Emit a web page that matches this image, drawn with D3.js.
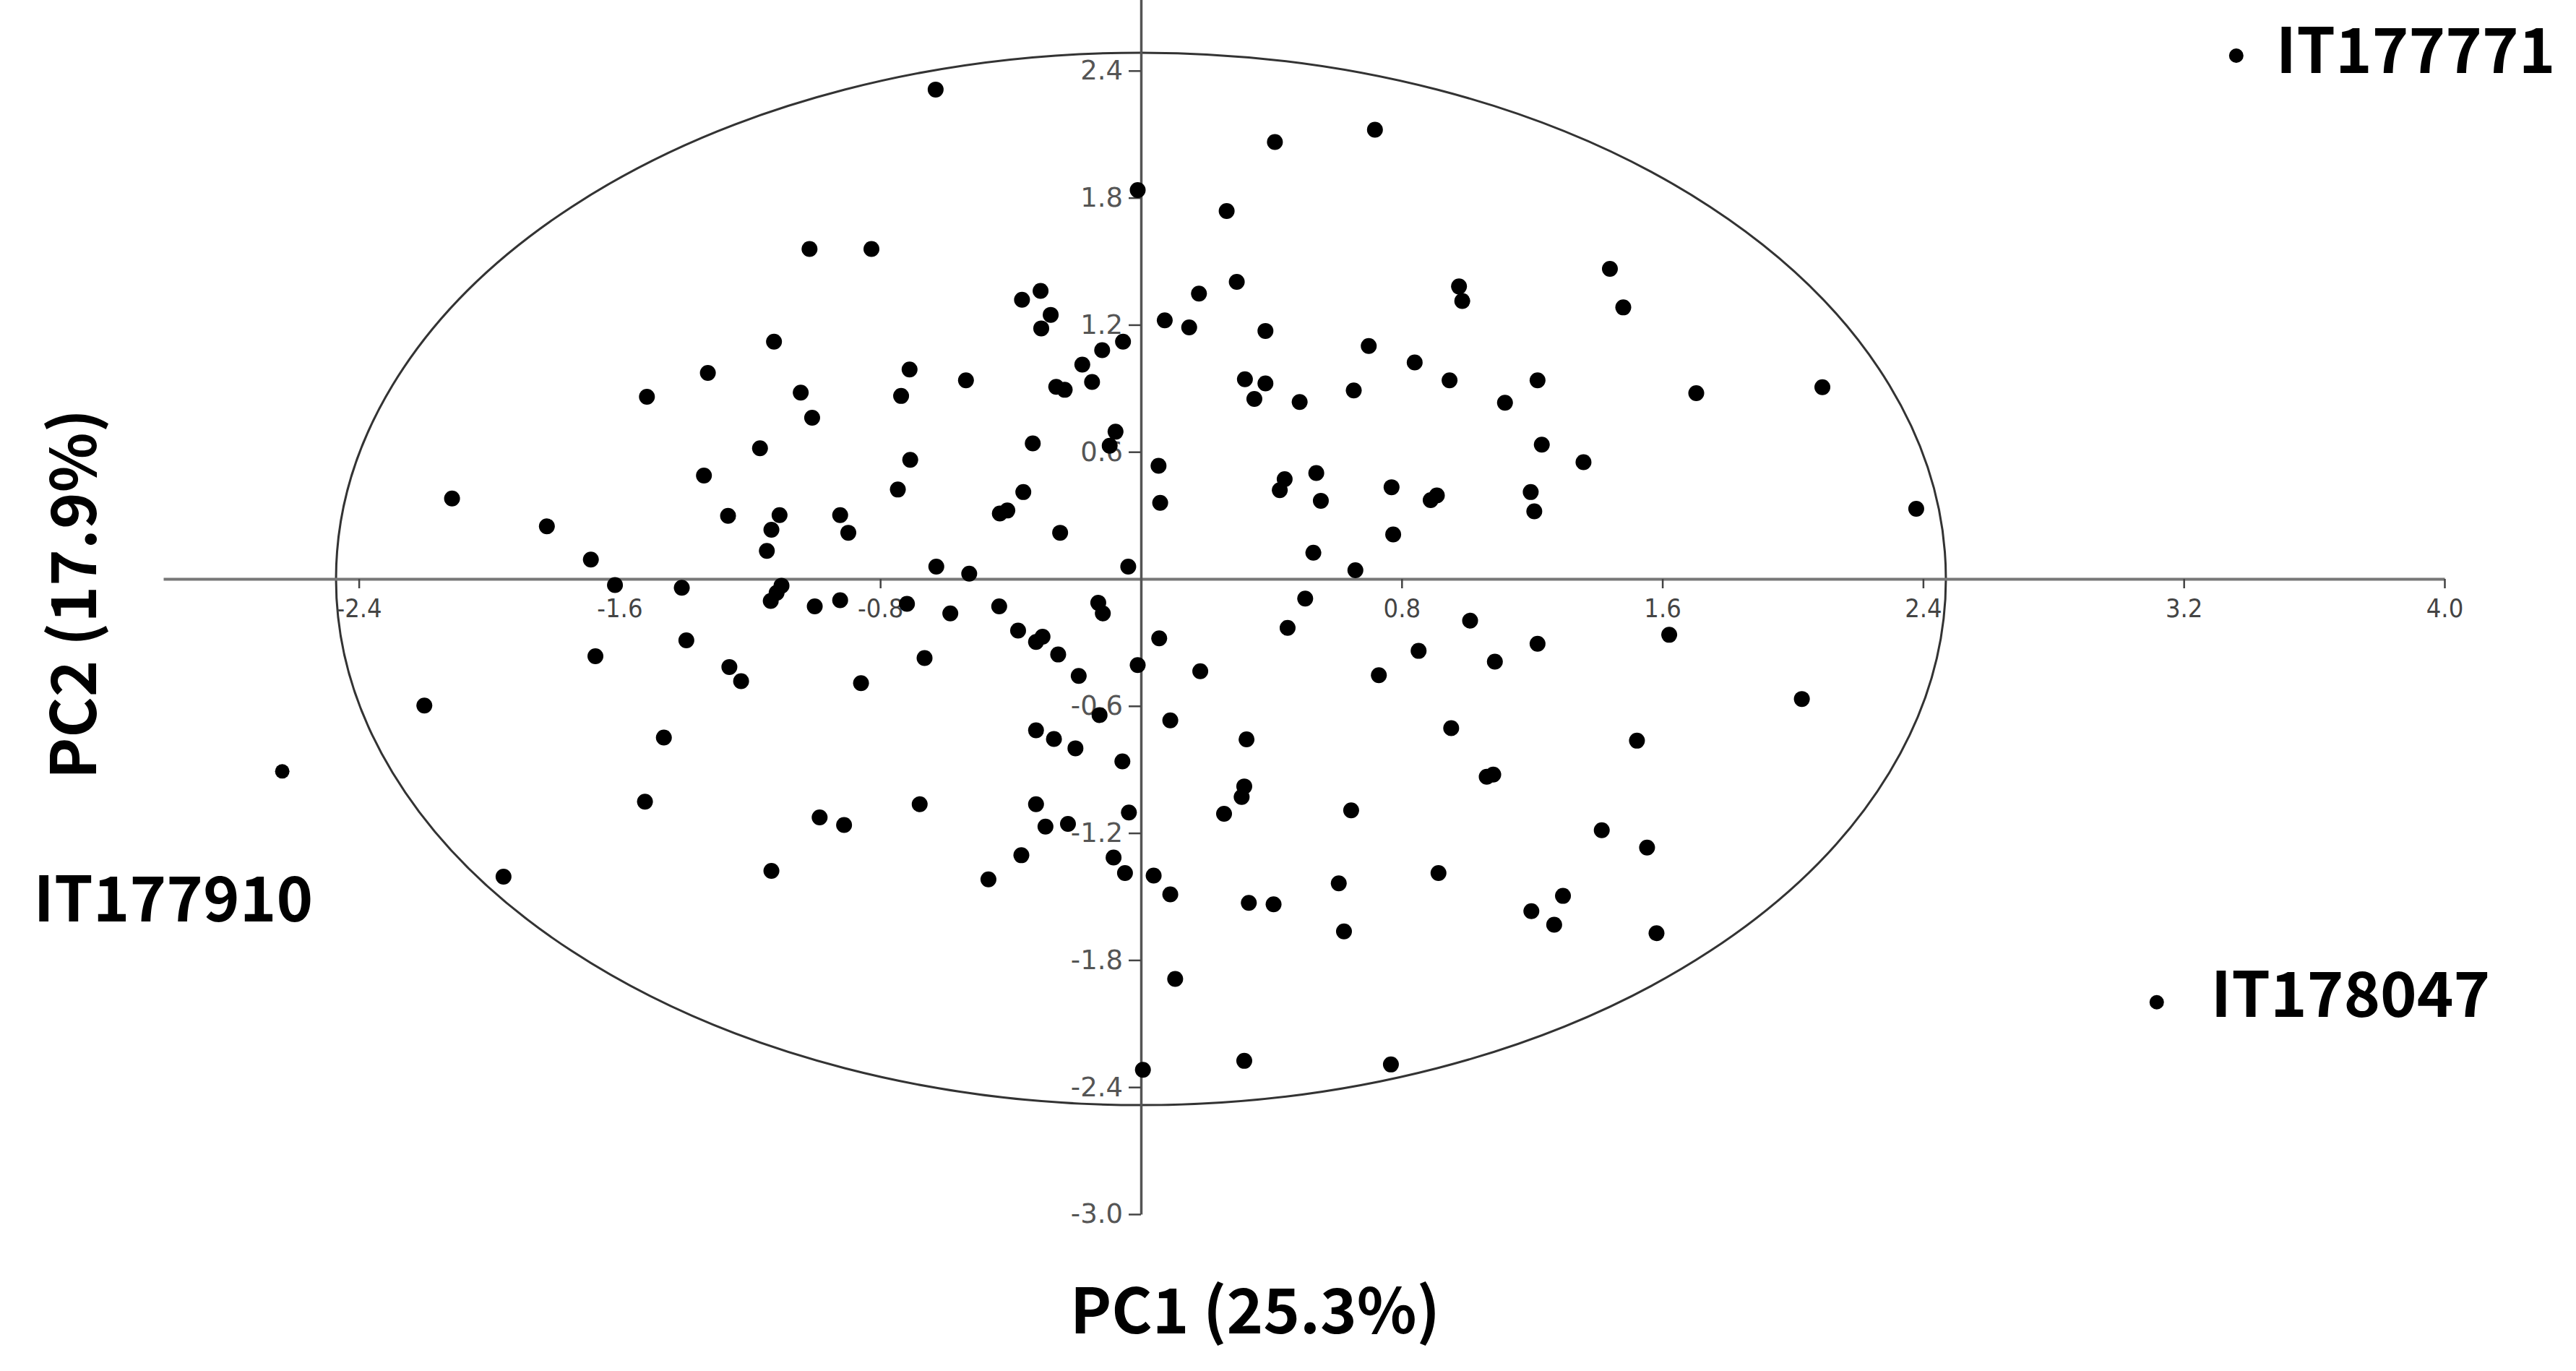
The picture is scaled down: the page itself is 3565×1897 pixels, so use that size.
<!DOCTYPE html>
<html>
<head>
<meta charset="utf-8">
<script src="https://cdn.jsdelivr.net/npm/d3@7"></script>
<style>
  html, body { margin: 0; padding: 0; background: #fff; }
  svg { display: block; }
</style>
</head>
<body>
<svg id="chart" width="3565" height="1897"></svg>
<script>
// PC scores
const pc1 = [
  -0.630, -0.010, -1.017, -0.827, -0.308, -0.365, -0.277, -0.306, -1.126, -0.055,
  -0.119, -0.180, -1.329, -0.710, -0.537, -0.260, -0.234, -0.150, -1.516, -1.044,
  -0.736, -1.009, -0.078, -0.096, -0.332, -1.169, -0.708, -1.341, -2.114, -0.746,
  -0.361, -0.410, -0.433, -1.823, -1.267, -1.109, -1.134, -0.923, -0.898, -0.248,
  -1.148, -1.688, -0.628, -0.527, -0.039,
  0.718, 0.411, 0.263, 1.439, 0.294, 0.178, 0.976, 0.986, 1.480, 0.073,
  0.148, 0.382, 0.699, 0.840, 0.319, 0.382, 0.348, 0.487, 0.653, 0.947,
  1.217, 1.117, 1.704, 2.091, 1.230, 1.358, 0.054, 0.441, 0.426, 0.538,
  0.552, 0.769, 0.908, 0.889, 1.196, 1.207, 0.059, 2.379, 0.774, 0.529,
  0.658,
  -1.614, -1.409, -1.103, -1.118, -1.136, -1.001, -0.923, -0.718, -0.585, -0.435,
  -0.131, -0.117, -1.395, -1.674, -0.664, -0.377, -0.322, -0.302, -0.254, -0.191,
  -1.263, -1.227, -0.859, -0.010, -2.199, -0.127, -0.322, -0.267, -0.201, -0.057,
  -1.464, -1.522, -0.679, -0.322, -0.037, -0.986, -0.911, -0.293, -0.224, -0.367,
  -0.084, -0.049, -1.956, -1.134, -0.468, 0.006,
  0.504, 0.450, 0.056, 1.010, 0.852, 1.217, 1.086, 1.621, 0.182, 0.730,
  2.028, 0.090, 0.952, 0.324, 1.522, 1.061, 1.081, 0.317, 0.309, 0.255,
  0.645, 1.414, 1.553, 0.039, 0.913, 0.090, 0.607, 0.331, 0.407, 1.295,
  1.198, 1.268, 0.623, 1.582, 0.105, 0.317, 0.767
];
const pc2 = [
  2.311, 1.836, 1.558, 1.558, 1.360, 1.318, 1.247, 1.183, 1.120, 1.120,
  1.080, 1.012, 0.973, 0.989, 0.938, 0.907, 0.893, 0.930, 0.860, 0.880,
  0.864, 0.761, 0.695, 0.629, 0.640, 0.617, 0.562, 0.488, 0.380, 0.422,
  0.410, 0.323, 0.309, 0.248, 0.298, 0.301, 0.232, 0.301, 0.218, 0.218,
  0.132, 0.091, 0.058, 0.025, 0.058,
  2.121, 2.063, 1.737, 1.464, 1.403, 1.347, 1.381, 1.312, 1.282, 1.221,
  1.188, 1.171, 1.100, 1.022, 0.943, 0.923, 0.850, 0.835, 0.890, 0.938,
  0.938, 0.832, 0.877, 0.905, 0.634, 0.551, 0.534, 0.471, 0.419, 0.500,
  0.369, 0.433, 0.394, 0.372, 0.410, 0.319, 0.359, 0.331, 0.210, 0.124,
  0.041,
  -0.029, -0.042, -0.032, -0.066, -0.104, -0.130, -0.101, -0.118, -0.163, -0.130,
  -0.113, -0.163, -0.290, -0.365, -0.374, -0.244, -0.298, -0.273, -0.357, -0.458,
  -0.416, -0.483, -0.492, -0.407, -0.598, -0.643, -0.715, -0.756, -0.800, -0.862,
  -0.749, -1.052, -1.064, -1.064, -1.103, -1.126, -1.162, -1.170, -1.157, -1.305,
  -1.316, -1.389, -1.406, -1.379, -1.419, -2.318,
  -0.093, -0.231, -0.281, -0.197, -0.340, -0.306, -0.391, -0.264, -0.436, -0.455,
  -0.567, -0.668, -0.705, -0.758, -0.764, -0.934, -0.924, -0.980, -1.030, -1.109,
  -1.093, -1.187, -1.269, -1.401, -1.389, -1.490, -1.438, -1.530, -1.537, -1.497,
  -1.569, -1.633, -1.665, -1.673, -1.889, -2.276, -2.293
];

// labelled outliers
const outlierNames = ["IT177771", "IT178047", "IT177910"];
const outlierPc1 = [3.361, 3.117, -2.635];
const outlierPc2 = [2.471, -1.999, -0.909];

// 95% ellipse (centre and semi-axes in PC units)
const ellipseCentre = [0, 0];
const ellipseRadii = [2.47, 2.485];

const xTicks = [-2.4, -1.6, -0.8, 0.8, 1.6, 2.4, 3.2, 4.0];
const yTicks = [-3.0, -2.4, -1.8, -1.2, -0.6, 0.6, 1.2, 1.8, 2.4];
const xTitle = "PC1 (25.3%)";
const yTitle = "PC2 (17.9%)";

const svg = d3.select("#chart");

const x = d3.scaleLinear().domain([-3, 4]).range([226, 3383]);
const y = d3.scaleLinear().domain([-3, 3]).range([1680, -78]);

const points = pc1.map((v, i) => ({ x: v, y: pc2[i] }));
const outliers = outlierNames.map((n, i) => ({ name: n, x: outlierPc1[i], y: outlierPc2[i] }));

// ellipse
svg.append("ellipse")
  .attr("cx", x(ellipseCentre[0]))
  .attr("cy", y(ellipseCentre[1]))
  .attr("rx", x(ellipseRadii[0]) - x(0))
  .attr("ry", y(0) - y(ellipseRadii[1]))
  .attr("fill", "none")
  .attr("stroke", "#333")
  .attr("stroke-width", 3);

// x axis through the origin
const xAxis = svg.append("g")
  .attr("transform", `translate(0,${y(0)})`)
  .call(d3.axisBottom(x).tickValues(xTicks).tickFormat(d => d.toFixed(1))
    .tickSize(13).tickSizeOuter(0).tickPadding(14));
xAxis.select(".domain").attr("stroke", "#777").attr("stroke-width", 4);
xAxis.selectAll(".tick line").attr("stroke", "#444").attr("stroke-width", 2.5);
xAxis.selectAll(".tick text")
  .attr("fill", "#444")
  .style("font-family", "'DejaVu Sans Condensed', 'DejaVu Sans', sans-serif")
  .style("font-size", "36px");

// y axis through the origin (runs off the top edge)
const yAxis = svg.append("g")
  .attr("transform", `translate(${x(0)},0)`)
  .call(d3.axisLeft(y).tickValues(yTicks).tickFormat(d => d.toFixed(1))
    .tickSize(17).tickSizeOuter(0).tickPadding(8));
yAxis.select(".domain").attr("stroke", "#555").attr("stroke-width", 3.5);
yAxis.selectAll(".tick line").attr("stroke", "#444").attr("stroke-width", 2.5);
yAxis.selectAll(".tick text")
  .attr("fill", "#555")
  .style("font-family", "'DejaVu Sans', sans-serif")
  .style("font-size", "37px");

// points
svg.append("g").selectAll("circle")
  .data(points)
  .join("circle")
  .attr("cx", d => x(d.x))
  .attr("cy", d => y(d.y))
  .attr("r", 11)
  .attr("fill", "#000");

// labelled outliers
const labelShift = {
  IT177771: [55, 24],
  IT178047: [75, 20],
  IT177910: [-344, 208]
};
const og = svg.append("g").selectAll("g")
  .data(outliers)
  .join("g");
og.append("circle")
  .attr("cx", d => x(d.x))
  .attr("cy", d => y(d.y))
  .attr("r", 10)
  .attr("fill", "#000");
og.append("text")
  .attr("x", d => x(d.x) + labelShift[d.name][0])
  .attr("y", d => y(d.y) + labelShift[d.name][1])
  .attr("font-family", "'Noto Sans CJK KR', 'Noto Sans', sans-serif")
  .attr("font-weight", 700)
  .attr("font-size", 86)
  .attr("fill", "#000")
  .text(d => d.name);

// axis titles
svg.append("text")
  .attr("x", 1737)
  .attr("y", 1845)
  .attr("text-anchor", "middle")
  .attr("font-family", "'Noto Sans CJK KR', 'Noto Sans', sans-serif")
  .attr("font-weight", 700)
  .attr("font-size", 86)
  .text(xTitle);

svg.append("text")
  .attr("transform", "translate(133,822) rotate(-90)")
  .attr("text-anchor", "middle")
  .attr("font-family", "'Noto Sans CJK KR', 'Noto Sans', sans-serif")
  .attr("font-weight", 700)
  .attr("font-size", 86)
  .text(yTitle);
</script>
</body>
</html>
